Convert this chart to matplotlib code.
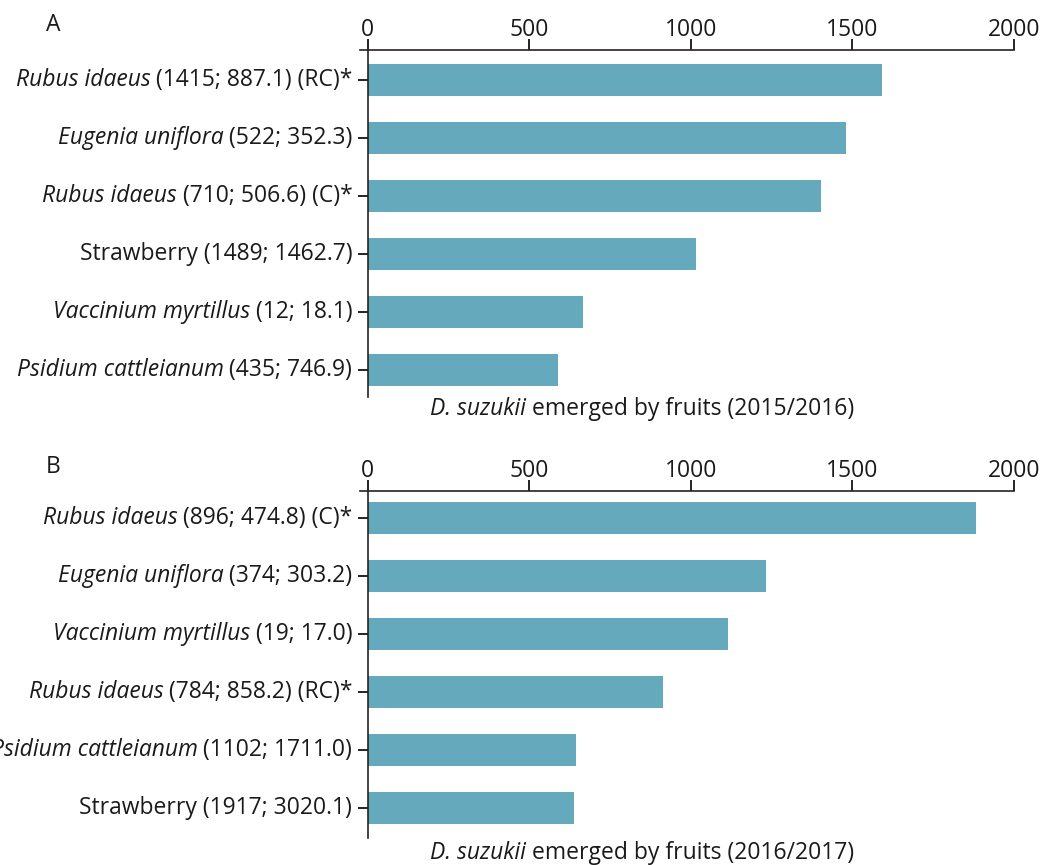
import matplotlib
matplotlib.use('Agg')
import matplotlib.pyplot as plt
from matplotlib.offsetbox import TextArea, HPacker, AnnotationBbox

plt.rcParams['font.family'] = ['Open Sans', 'DejaVu Sans']

# panel A: 2015/2016 season
species_a = ['Rubus idaeus', 'Eugenia uniflora', 'Rubus idaeus', '',
             'Vaccinium myrtillus', 'Psidium cattleianum']
details_a = ['(1415; 887.1) (RC)*', '(522; 352.3)', '(710; 506.6) (C)*',
             'Strawberry (1489; 1462.7)', '(12; 18.1)', '(435; 746.9)']
emerged_a = [1591, 1480, 1403, 1016, 667, 590]

# panel B: 2016/2017 season
species_b = ['Rubus idaeus', 'Eugenia uniflora', 'Vaccinium myrtillus',
             'Rubus idaeus', 'Psidium cattleianum', '']
details_b = ['(896; 474.8) (C)*', '(374; 303.2)', '(19; 17.0)',
             '(784; 858.2) (RC)*', '(1102; 1711.0)', 'Strawberry (1917; 3020.1)']
emerged_b = [1883, 1233, 1116, 915, 646, 639]

x_ticks = [0, 500, 1000, 1500, 2000]
bar_color = '#65a9bc'
text_color = '#1a1a1a'
fs = 16.5


def mixed_label(italic, regular, size=fs):
    parts = []
    if italic:
        parts.append(TextArea(italic, textprops=dict(style='italic', size=size, color=text_color)))
    parts.append(TextArea(regular, textprops=dict(size=size, color=text_color)))
    return HPacker(children=parts, align='baseline', pad=0, sep=4)


def draw_panel(ax, species, details, values, season, ylim, letter, letter_y, xlabel_y):
    n = len(values)
    ax.barh(range(n), values, height=0.56, color=bar_color, zorder=2)
    ax.set_xlim(-25, 2000)
    ax.set_ylim(ylim)

    ax.xaxis.tick_top()
    ax.set_xticks(x_ticks)
    ax.set_xticklabels([str(t) for t in x_ticks], fontsize=fs, color=text_color)
    ax.tick_params(axis='x', length=8, width=1.2, pad=-2)

    ax.spines['right'].set_visible(False)
    ax.spines['bottom'].set_visible(False)
    ax.spines['left'].set_position(('data', 0))
    for s in ('top', 'left'):
        ax.spines[s].set_linewidth(1.2)
        ax.spines[s].set_color('#222222')

    ax.set_yticks(range(n))
    ax.set_yticklabels([])
    ax.tick_params(axis='y', length=7, width=1.2)

    for i in range(n):
        box = mixed_label(species[i], details[i])
        ab = AnnotationBbox(box, (0, i), xybox=(-11, 0), xycoords='data',
                            boxcoords='offset points', box_alignment=(1, 0.5),
                            frameon=False, annotation_clip=False)
        ax.add_artist(ab)

    xl = mixed_label('D. suzukii', 'emerged by fruits (' + season + ')')
    ab = AnnotationBbox(xl, (642 / 1044, xlabel_y), xycoords='figure fraction',
                        box_alignment=(0.5, 0.5), frameon=False, annotation_clip=False)
    ax.add_artist(ab)

    fig.text(53 / 1044, letter_y, letter, fontsize=fs, color=text_color,
             ha='center', va='center')


fig = plt.figure(figsize=(10.44, 8.65), dpi=100)
ax_a = fig.add_axes([0.3444, 0.5410, 0.6269, 0.4012])
ax_b = fig.add_axes([0.3444, 0.0312, 0.6269, 0.4012])

draw_panel(ax_a, species_a, details_a, emerged_a, '2015/2016', (5.47, -0.52),
           'A', 1 - 25 / 865, 1 - 409 / 865)
draw_panel(ax_b, species_b, details_b, emerged_b, '2016/2017', (5.52, -0.47),
           'B', 1 - 467 / 865, 1 - 853 / 865)

fig.savefig('out.png', dpi=100)
